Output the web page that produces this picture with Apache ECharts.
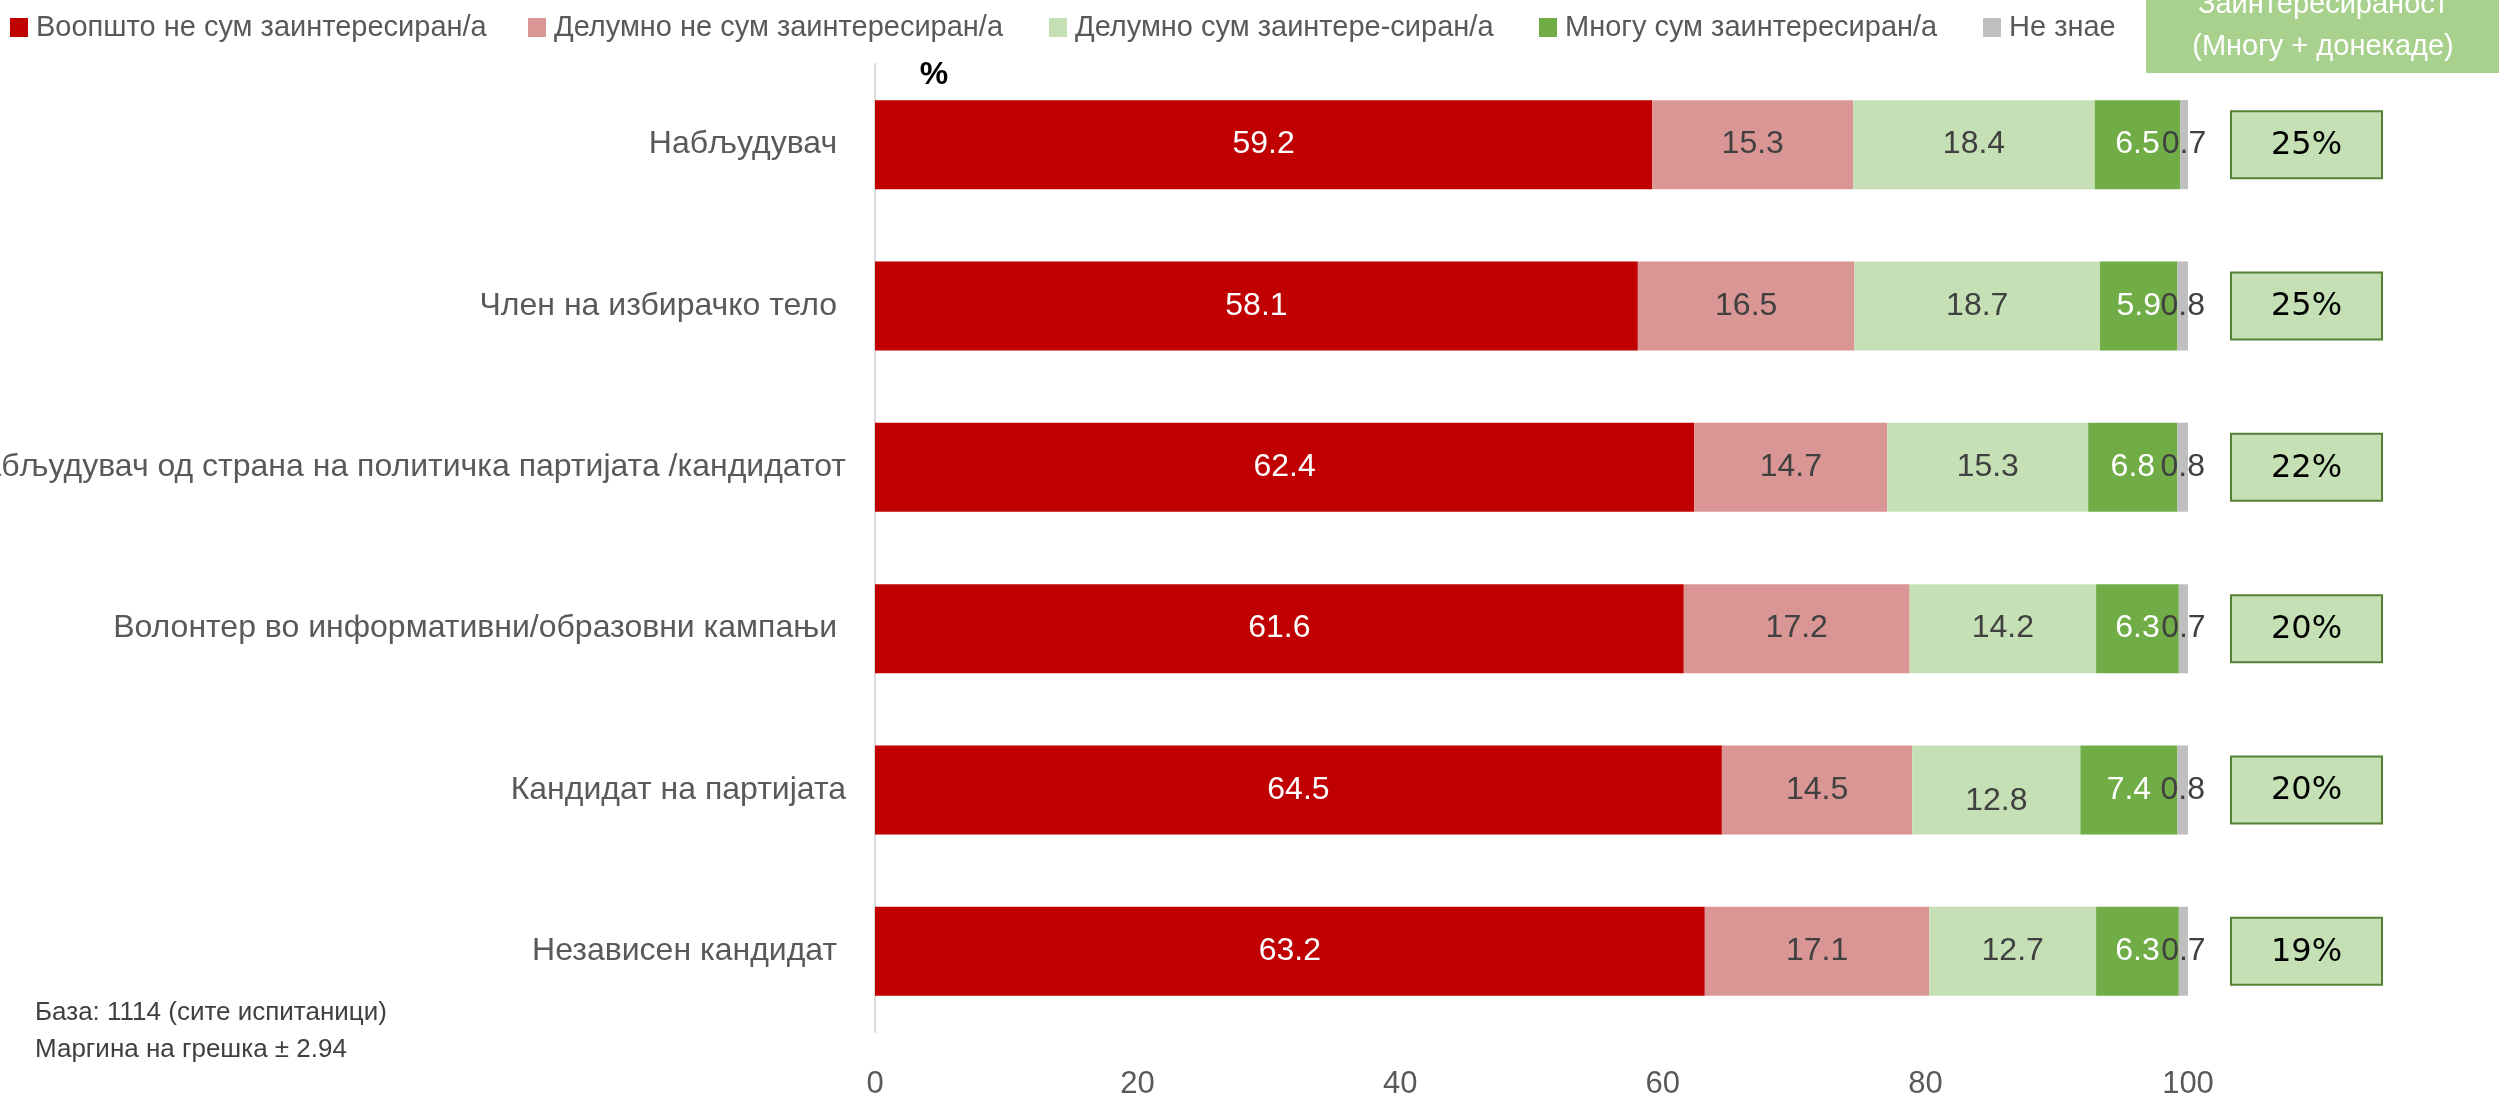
<!DOCTYPE html>
<html>
<head>
<meta charset="utf-8">
<script src="https://cdn.jsdelivr.net/npm/echarts@6/dist/echarts.min.js"></script>
<style>
html,body{margin:0;padding:0;background:#fff;}
#chart{width:2499px;height:1094px;}
</style>
</head>
<body>
<div id="chart"></div>
<script>
// ---- data ----
const categories = [
  'Набљудувач ',
  'Член на избирачко тело ',
  'Набљудувач од страна на политичка партијата /кандидатот',
  'Волонтер во информативни/образовни кампањи ',
  'Кандидат на партијата',
  'Независен кандидат '
];
const seriesNames = [
  'Воопшто не сум заинтересиран/а',
  'Делумно не сум заинтересиран/а',
  'Делумно сум заинтере-сиран/а',
  'Многу сум заинтересиран/а',
  'Не знае'
];
const notInterested = [59.2, 58.1, 62.4, 61.6, 64.5, 63.2];
const partlyNot     = [15.3, 16.5, 14.7, 17.2, 14.5, 17.1];
const partlyYes     = [18.4, 18.7, 15.3, 14.2, 12.8, 12.7];
const veryYes       = [6.5, 5.9, 6.8, 6.3, 7.4, 6.3];
const dontKnow      = [0.7, 0.8, 0.8, 0.7, 0.8, 0.7];
const interest      = [25, 25, 22, 20, 20, 19];
const xTicks = [0, 20, 40, 60, 80, 100];
const boxTitle = ['Заинтересираност', '(Многу + донекаде)'];
const notes = ['База: 1114 (сите испитаници)', 'Маргина на грешка ± 2.94'];

const FONT = '"Liberation Sans", Arial, sans-serif';
const colors = ['#C00000', '#DA9694', '#C5E0B4', '#70AD47', '#BFBFBF'];
const labelColors = ['#FFFFFF', '#404040', '#404040', '#FFFFFF', '#404040'];
const values = [notInterested, partlyNot, partlyYes, veryYes, dontKnow];
const legendLeft = [10, 528, 1049, 1539, 1983];

const chart = echarts.init(document.getElementById('chart'), null, {renderer: 'canvas'});

const barSeries = values.map((arr, si) => ({
  name: seriesNames[si],
  type: 'bar',
  stack: 'total',
  barWidth: 89,
  itemStyle: {color: colors[si]},
  label: {
    show: true,
    position: 'inside',
    color: labelColors[si],
    fontFamily: FONT,
    fontSize: 32,
    formatter: p => p.value.toFixed(1)
  },
  data: arr.map((v, i) => {
    if (si === 2 && i === 4) return {value: v, label: {offset: [0, 11]}};
    return v;
  }),
  emphasis: {disabled: true},
  z: 2
}));

const boxSeries = {
  type: 'custom',
  clip: false,
  silent: true,
  data: interest.map((v, i) => [100, i, v]),
  encode: {x: 0, y: 1},
  renderItem: function (params, api) {
    const p = api.coord([api.value(0), api.value(1)]);
    const x = p[0] + 43, w = 151, h = 67;
    return {
      type: 'group',
      children: [
        {type: 'rect', shape: {x: x, y: p[1] - h / 2, width: w, height: h},
         style: {fill: '#C5E0B4', stroke: '#538135', lineWidth: 2}},
        {type: 'text', style: {x: x + w / 2, y: p[1] + 1, text: api.value(2) + '%',
          textAlign: 'center', textVerticalAlign: 'middle', fill: '#000',
          font: '32px "DejaVu Sans", sans-serif'}}
      ]
    };
  },
  z: 3
};

const option = {
  backgroundColor: '#fff',
  animation: false,
  textStyle: {fontFamily: FONT},
  legend: seriesNames.map((n, i) => ({
    data: [n],
    left: legendLeft[i],
    top: 13,
    padding: 0,
    icon: 'rect',
    itemWidth: 18,
    itemHeight: 19,
    selectedMode: false,
    textStyle: {color: '#595959', fontFamily: FONT, fontSize: 29, padding: [0, 0, 0, 3]}
  })),
  grid: {left: 875, right: 311, top: 64, bottom: 62, containLabel: false, outerBoundsMode: 'none'},
  xAxis: {
    type: 'value',
    min: xTicks[0],
    max: xTicks[xTicks.length - 1],
    interval: xTicks[1] - xTicks[0],
    axisLine: {show: false},
    axisTick: {show: false},
    splitLine: {show: false},
    axisLabel: {color: '#595959', fontFamily: FONT, fontSize: 31, margin: 37}
  },
  yAxis: {
    type: 'category',
    inverse: true,
    data: categories,
    axisLine: {show: true, lineStyle: {color: '#D9D9D9', width: 2}},
    axisTick: {show: false},
    axisLabel: {color: '#595959', fontFamily: FONT, fontSize: 32, margin: 29}
  },
  graphic: [
    {type: 'rect', left: 2146, top: -40, shape: {width: 360, height: 113}, style: {fill: '#A9D18E'}, z: 10},
    {type: 'text', x: 2323, y: 5, z: 11, style: {text: boxTitle[0], textAlign: 'center', textVerticalAlign: 'middle', fill: '#fff', font: '29px ' + FONT}},
    {type: 'text', x: 2323, y: 47, z: 11, style: {text: boxTitle[1], textAlign: 'center', textVerticalAlign: 'middle', fill: '#fff', font: '29px ' + FONT}},
    {type: 'text', x: 934, y: 75, z: 11, style: {text: '%', textAlign: 'center', textVerticalAlign: 'middle', fill: '#000', font: 'bold 32px ' + FONT}},
    {type: 'text', x: 35, y: 1013, z: 11, style: {text: notes[0], textAlign: 'left', textVerticalAlign: 'middle', fill: '#404040', font: '26px ' + FONT}},
    {type: 'text', x: 35, y: 1050, z: 11, style: {text: notes[1], textAlign: 'left', textVerticalAlign: 'middle', fill: '#404040', font: '26px ' + FONT}}
  ],
  series: barSeries.concat([boxSeries])
};
chart.setOption(option);
</script>
</body>
</html>
